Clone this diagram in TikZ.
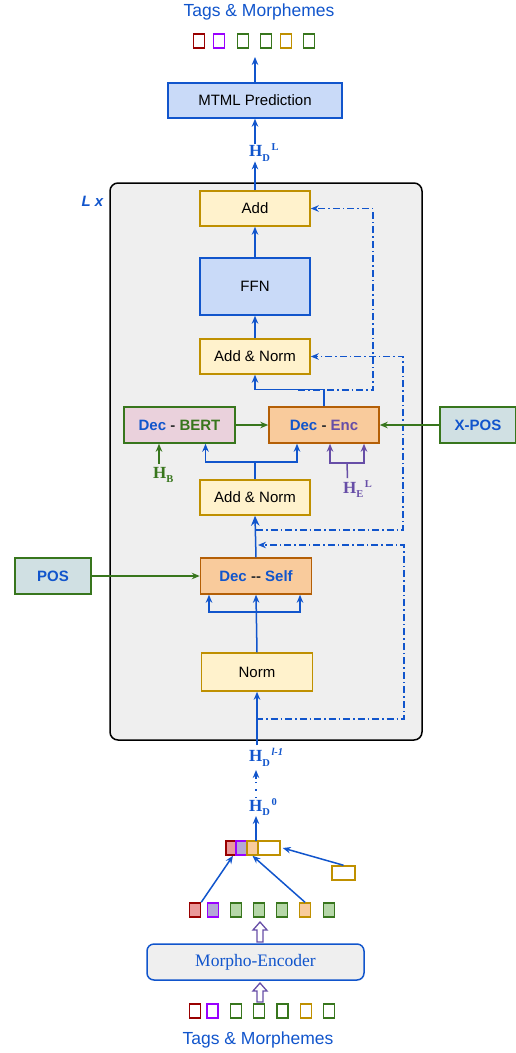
\documentclass[tikz,border=0pt]{standalone}
\usepackage{fontspec}
\setmainfont{Liberation Sans}
\newfontfamily\tnr{Liberation Serif}
\usetikzlibrary{arrows.meta,calc}
\definecolor{ublue}{HTML}{1155CC}
\definecolor{ugreen}{HTML}{38761D}
\definecolor{upurple}{HTML}{674EA7}
\definecolor{uviolet}{HTML}{9900FF}
\definecolor{ured}{HTML}{990000}
\definecolor{ugold}{HTML}{BF9000}
\definecolor{yfill}{HTML}{FFF2CC}
\definecolor{bfill}{HTML}{C9DAF8}
\definecolor{ofill}{HTML}{F9CB9C}
\definecolor{oline}{HTML}{B45F06}
\definecolor{pfill}{HTML}{EAD1DC}
\definecolor{gfill}{HTML}{D0E0E3}
\definecolor{greyfill}{HTML}{EFEFEF}
\definecolor{redfill}{HTML}{EA9999}
\definecolor{violetfill}{HTML}{B4A7D6}
\definecolor{greenfill}{HTML}{B6D7A8}
\begin{document}
\begin{tikzpicture}[x=1pt,y=-1pt,
  box/.style={draw, line width=1.5pt, inner sep=0pt, font=\fontsize{15}{18}\selectfont},
  yel/.style={box, fill=yfill, draw=ugold},
  blu/.style={box, fill=bfill, draw=ublue},
  org/.style={box, fill=ofill, draw=oline, font=\fontsize{15}{18}\selectfont\bfseries},
  posbox/.style={box, fill=gfill, draw=ugreen, text=ublue, font=\fontsize{15}{18}\selectfont\bfseries},
  sq/.style={draw, line width=1.5pt, inner sep=0pt, minimum width=11pt, minimum height=14pt},
  cell/.style={draw, line width=1.5pt, inner sep=0pt, minimum height=14pt},
  conn/.style={ublue, line width=1.5pt},
  arr/.style={conn, -{Stealth[length=8pt,width=6.5pt]}},
  garr/.style={ugreen, line width=1.5pt, -{Stealth[length=8pt,width=6.5pt]}},
  parr/.style={upurple, line width=1.5pt, -{Stealth[length=8pt,width=6.5pt]}},
  dd/.style={ublue, line width=1.5pt, dash pattern=on 7pt off 3pt on 1.5pt off 3pt, -{Stealth[length=8pt,width=6.5pt]}},
  hlab/.style={inner sep=0pt, font=\tnr\bfseries\fontsize{17}{17}\selectfont},
  hollow/.style={upurple, line width=1.3pt, fill=white, line join=miter}
]
\newcommand{\lowtx}[1]{\raisebox{-4.5pt}{\fontsize{10.5}{10.5}\selectfont #1}}
\newcommand{\hightx}[1]{\raisebox{6pt}{\fontsize{10.5}{10.5}\selectfont #1}}
\useasboundingbox (0,0) rectangle (516,1053);

% big layer box
\node[draw=black, line width=1.5pt, fill=greyfill, rounded corners=8pt, minimum width=312pt, minimum height=557pt, inner sep=0pt] (layer) at (266,461.5) {};
\node[text=ublue, font=\fontsize{15}{18}\selectfont\bfseries\itshape] (lx) at (92.5,201) {L x};

% top titles and squares
\node[text=ublue, font=\fontsize{17.5}{20}\selectfont] (ttop) at (259,12) {Tags \& Morphemes};
\node[sq, draw=ured] (t1) at (199,41) {};
\node[sq, draw=uviolet] (t2) at (219,41) {};
\node[sq, draw=ugreen] (t3) at (243,41) {};
\node[sq, draw=ugreen] (t4) at (266,41) {};
\node[sq, draw=ugold] (t5) at (286,41) {};
\node[sq, draw=ugreen] (t6) at (309,41) {};
\coordinate (topin) at (255,57);

\node[blu, minimum width=174pt, minimum height=35pt] (mtml) at (255,100.5) {MTML Prediction};
\node[hlab, text=ublue, anchor=west] (hdl) at (249,152.5) {H\lowtx{D}\hspace{1.5pt}\hightx{L}};

% boxes inside
\node[yel, minimum width=110pt, minimum height=35pt] (add) at (255,208.5) {Add};
\node[blu, minimum width=110pt, minimum height=57pt] (ffn) at (255,286.5) {FFN};
\node[yel, minimum width=110pt, minimum height=35pt] (an1) at (255,356.5) {Add \& Norm};
\node[box, fill=pfill, draw=ugreen, font=\fontsize{15}{18}\selectfont\bfseries, minimum width=111pt, minimum height=36pt] (bert) at (179.5,425) {\textcolor{ublue}{Dec} \textcolor{black!80}{-} \textcolor{ugreen}{BERT}};
\node[org, minimum width=110pt, minimum height=36pt] (enc) at (324,425) {\textcolor{ublue}{Dec} \textcolor{black!80}{-} \textcolor{upurple}{Enc}};
\node[posbox, minimum width=76pt, minimum height=36pt] (xpos) at (478,425) {X-POS};
\node[yel, minimum width=110pt, minimum height=35pt] (an2) at (255,497.5) {Add \& Norm};
\node[org, minimum width=111pt, minimum height=36pt] (self) at (256,576) {\textcolor{ublue}{Dec} \textcolor{black!80}{{-}{-}} \textcolor{ublue}{Self}};
\node[posbox, minimum width=76pt, minimum height=36pt] (pos) at (53,576) {POS};
\node[yel, minimum width=111pt, minimum height=38pt] (norm) at (257,672) {Norm};

\node[hlab, text=ugreen, anchor=west] (hb) at (153,475) {H\lowtx{B}};
\node[hlab, text=upurple, anchor=west] (he) at (343,489) {H\lowtx{E}\hspace{1.5pt}\hightx{L}};

% below layer
\node[hlab, text=ublue, anchor=west] (hdl1) at (249,757.5) {H\lowtx{D}\hspace{1.5pt}\hightx{\itshape l-1}};
\node[hlab, text=ublue, anchor=west] (hd0) at (249,807) {H\lowtx{D}\hspace{1.5pt}\hightx{0}};

% concat vector
\node[cell, draw=ured, fill=redfill, minimum width=10pt] (c1) at (231,848) {};
\node[cell, draw=uviolet, fill=violetfill, minimum width=11pt] (c2) at (241.5,848) {};
\node[cell, draw=ugold, fill=ofill, minimum width=11pt] (c3) at (252.5,848) {};
\node[cell, draw=ugold, fill=white, minimum width=22pt] (c4) at (269,848) {};
\node[cell, draw=ugold, fill=white, minimum width=23pt] (sb) at (343.5,873) {};

% embedding squares
\node[sq, draw=ured, fill=redfill] (b1) at (195,910) {};
\node[sq, draw=uviolet, fill=violetfill] (b2) at (213,910) {};
\node[sq, draw=ugreen, fill=greenfill] (b3) at (236,910) {};
\node[sq, draw=ugreen, fill=greenfill] (b4) at (259,910) {};
\node[sq, draw=ugreen, fill=greenfill] (b5) at (282,910) {};
\node[sq, draw=ugold, fill=ofill] (b6) at (305,910) {};
\node[sq, draw=ugreen, fill=greenfill] (b7) at (329,910) {};

\node[draw=ublue, fill=greyfill, line width=1.5pt, rounded corners=7pt, minimum width=217pt, minimum height=36pt, inner sep=0pt, text=ublue, font=\tnr\fontsize{17.5}{20}\selectfont] (menc) at (255.5,962) {Morpho-Encoder};

\node[sq, draw=ured] (i1) at (195,1011) {};
\node[sq, draw=uviolet] (i2) at (212.5,1011) {};
\node[sq, draw=ugreen] (i3) at (236,1011) {};
\node[sq, draw=ugreen] (i4) at (259,1011) {};
\node[sq, draw=ugreen] (i5) at (282.5,1011) {};
\node[sq, draw=ugold] (i6) at (306,1011) {};
\node[sq, draw=ugreen] (i7) at (329,1011) {};
\node[text=ublue, font=\fontsize{17.5}{20}\selectfont] (tbot) at (258,1040) {Tags \& Morphemes};

% hollow arrows
\draw[hollow] (257,942) -- (263,942) -- (263,930) -- (267,930) -- (260,922) -- (253,930) -- (257,930) -- cycle;
\draw[hollow] (257,1002) -- (263,1002) -- (263,991) -- (267,991) -- (260,983) -- (253,991) -- (257,991) -- cycle;

% connectors top
\draw[arr] (mtml.north) -- (topin);
\draw[arr] (mtml.south |- hdl.north) -- (mtml.south);
\draw[arr] (add.north) -- (add.north |- hdl.south);
\draw[arr] (ffn.north) -- (add.south);
\draw[arr] (an1.north) -- (ffn.south);
\draw[arr] (enc.north) -- ++(0,-17) -| (an1.south);

% residual dash-dot
\coordinate (r1s) at (298,390);
\draw[dd] (r1s) -- (373,390) -- (373,208.5) -- (add.east);
\coordinate (r2s) at (256,530);
\draw[dd] (r2s) -- (403,530) -- (403,356.5) -- (an1.east);
\coordinate (r3s) at (256,719);
\coordinate (r3e) at (258,545);
\draw[dd] (r3s) -- (404,719) -- (404,545) -- (r3e);

% AN2 branches
\coordinate (j1) at (255,462);
\draw[conn] (an2.north) -- (j1);
\draw[arr] (j1) -| ([xshift=26pt]bert.south);
\draw[arr] (j1) -| ([xshift=-27pt]enc.south);

% green
\draw[garr] (bert.east) -- (enc.west);
\draw[garr] (xpos.west) -- (enc.east);
\draw[garr] (pos.east) -- (self.west);
\draw[garr] ([xshift=6pt]hb.north west) ++(0,-3) -- ([xshift=6pt]hb.north west |- bert.south);

% purple
\coordinate (pj) at (347,463);
\draw[upurple, line width=1.5pt] ([xshift=4.5pt]he.north west) ++(0,-2) -- (pj);
\draw[parr] (pj) -| ([xshift=6pt]enc.south);
\draw[parr] (pj) -| ([xshift=40pt]enc.south);

% self -> an2
\draw[conn, -{Stealth[length=10pt,width=8.5pt]}] (self.north) -- (an2.south);

% norm -> self
\coordinate (j2) at (256,612);
\draw[arr] (norm.north) -- (self.south);
\draw[arr] (j2) -| ([xshift=-47pt]self.south);
\draw[arr] (j2) -| ([xshift=44pt]self.south);

% input into norm
\draw[arr] (norm.south |- hdl1.north) ++(0,-3) -- (norm.south);

% dotted hd0 -> hdl1
\draw[conn, dash pattern=on 1.5pt off 6pt] (256,798) -- (256,780);
\draw[arr] (256,779) -- (256,770);

% concat -> hd0
\draw[arr] (256,841) -- (256,816);

% embeddings -> concat
\draw[arr] (b1.north east) -- ([xshift=2pt]c1.south);
\draw[arr] (b6.north) -- (c3.south);
\draw[arr] (sb.north) -- ([xshift=2pt]c4.east);
\end{tikzpicture}
\end{document}
